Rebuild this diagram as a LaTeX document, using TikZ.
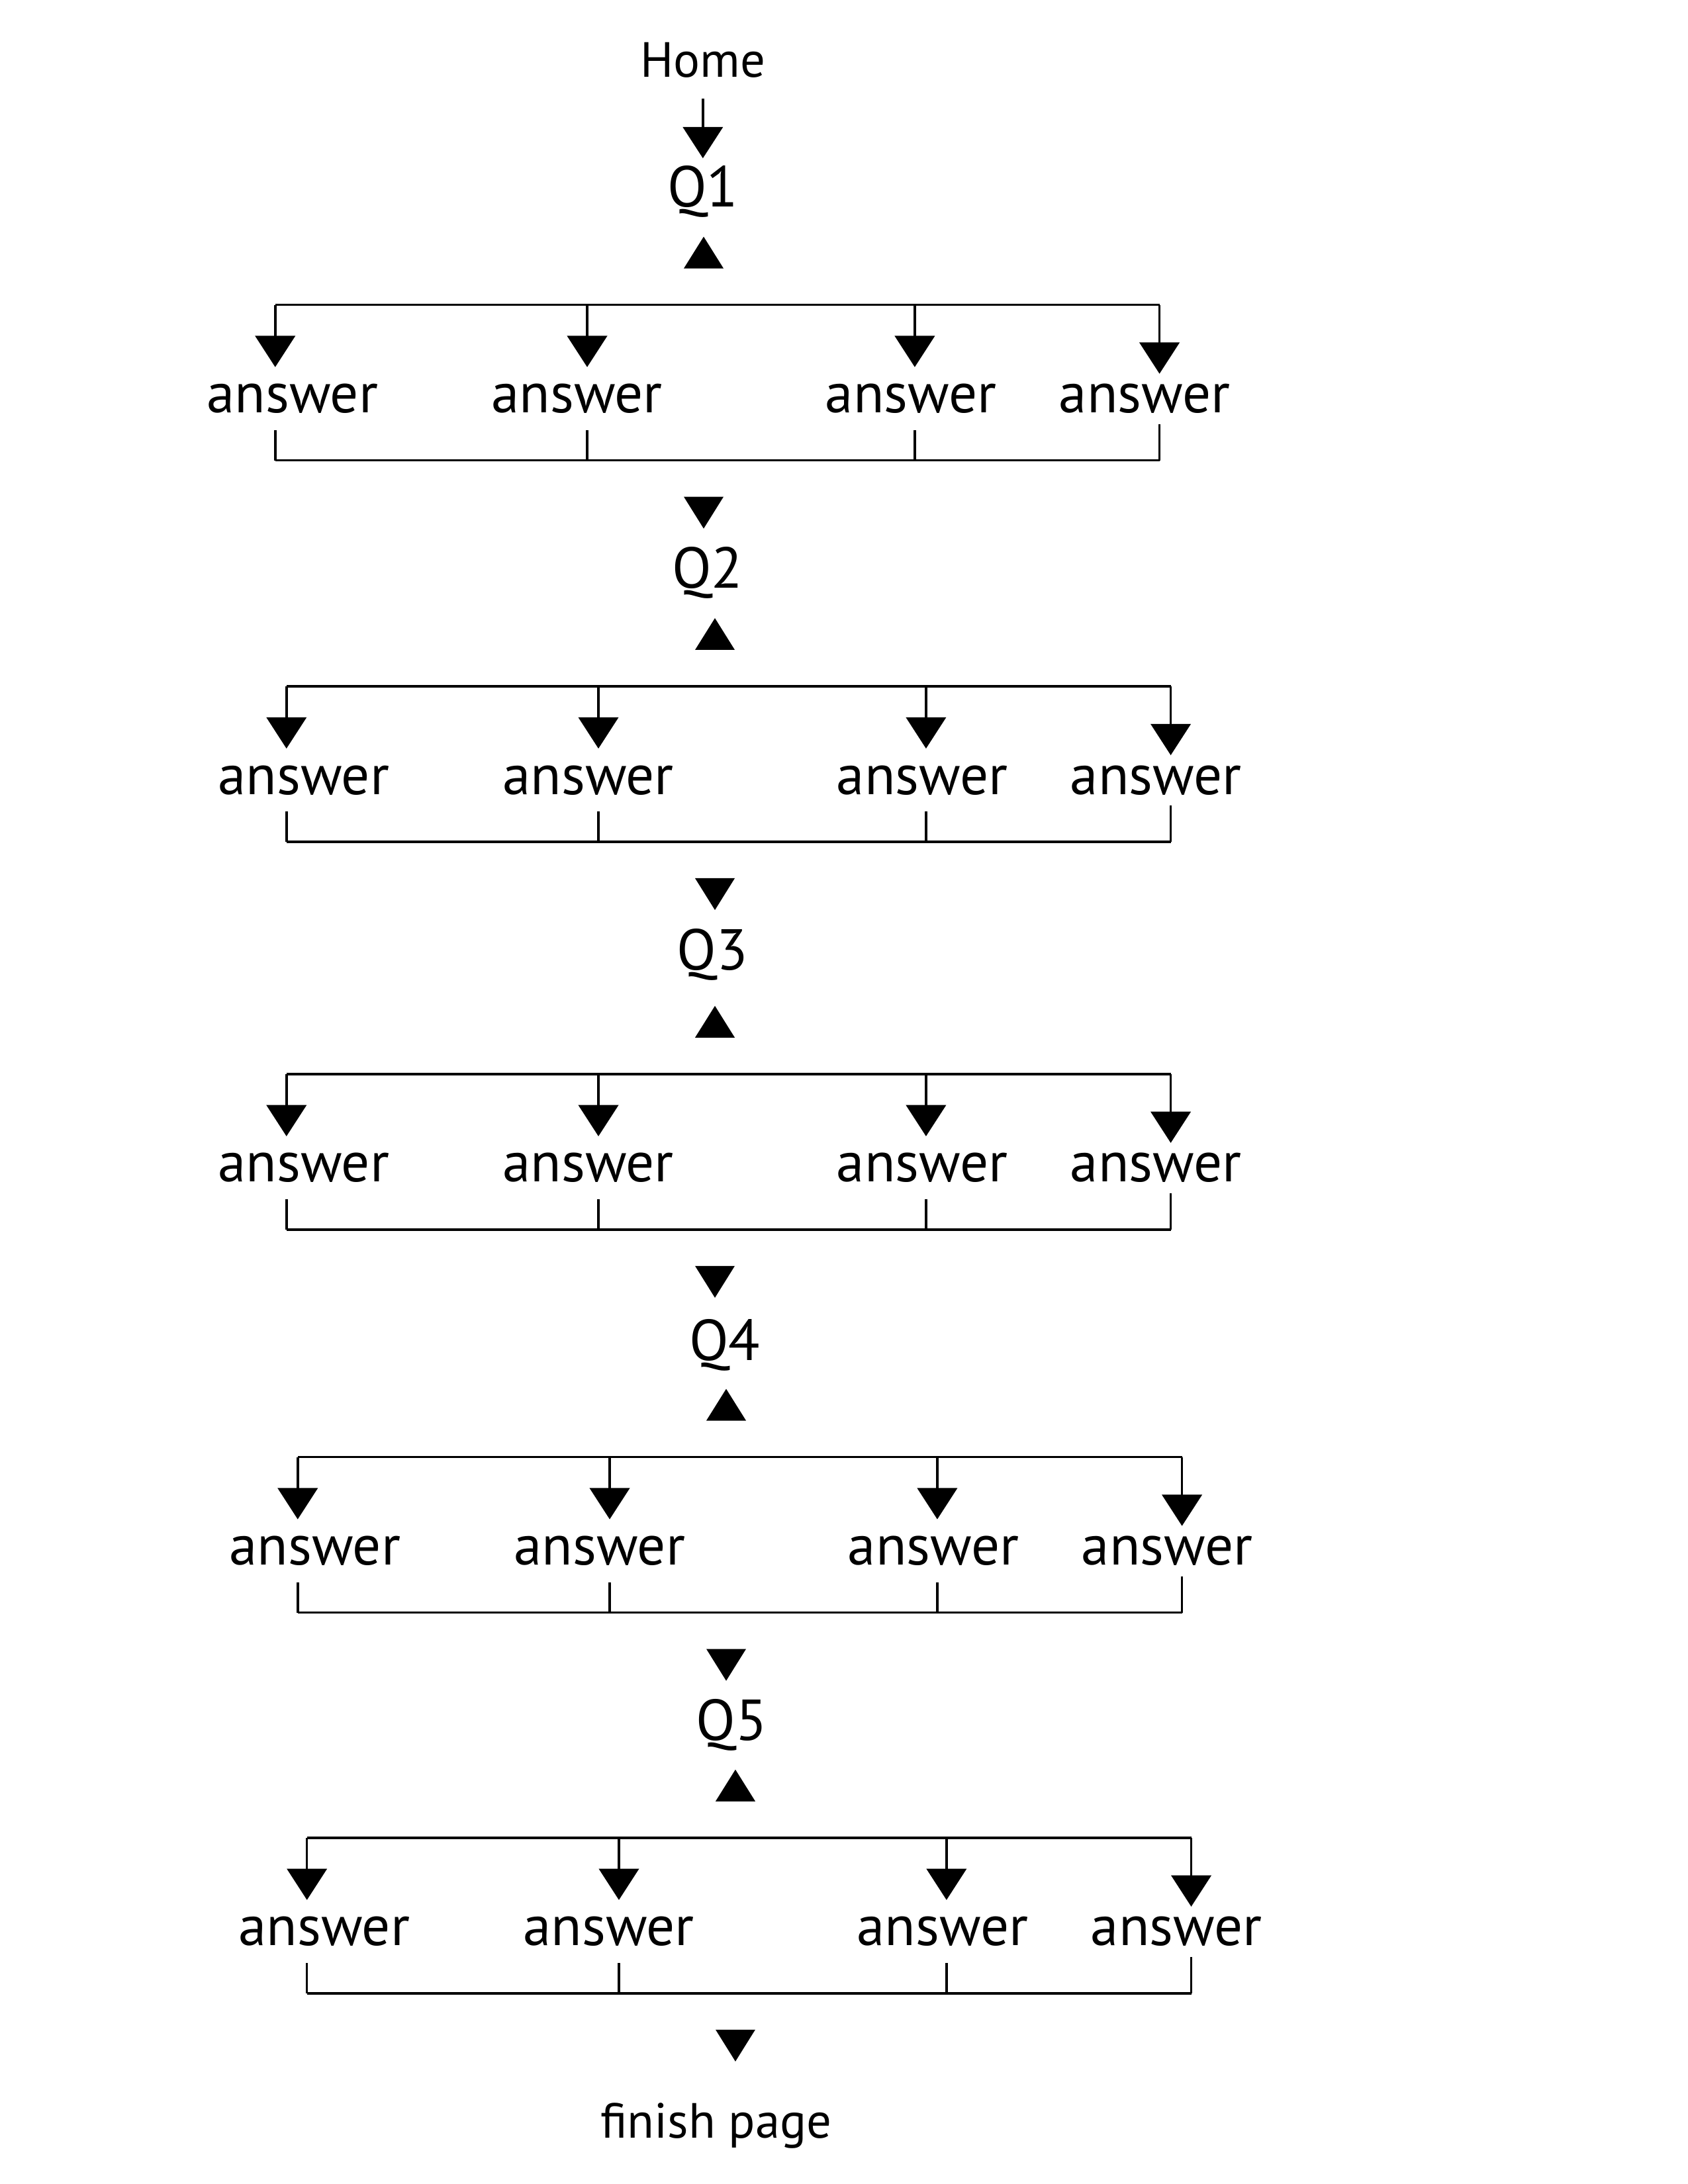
\documentclass[tikz,border=0pt]{standalone}
\usepackage{fontspec}
\setmainfont{PT Sans}
\usetikzlibrary{arrows.meta}

\begin{document}
\begin{tikzpicture}[line width=0.85pt,
  arr/.style={-{Triangle[width=5.1mm,length=4mm]}},
  lbl/.style={anchor=base,inner sep=0pt},
  qlbl/.style={lbl,font=\fontsize{21}{25}\selectfont},
  ans/.style={lbl,font=\fontsize{20.5}{24}\selectfont}]
\useasboundingbox (0,0) rectangle (21.59,-27.94);

\node[lbl,font=\fontsize{18}{21}\selectfont] (home) at (8.99,-0.99) {Home};

% one block per question: Q, up triangle, bar, four answers, bracket, down triangle
\foreach \r/\y/\dx/\qx/\qy in {1/3.90/0/8.99/2.65, 2/8.78/0.144/9.05/7.52,
    3/13.74/0.144/9.11/12.41, 4/18.64/0.288/9.27/17.40, 5/23.51/0.406/9.36/22.26}{
  \node[qlbl] (q\r) at (\qx,-\qy) {Q\r};
  \fill ({9.00+\dx-0.254},{-\y+0.466}) -- ++(0.508,0) -- ++(-0.254,0.406) -- cycle;
  \foreach \c/\xx/\off/\gt/\gb in {1/3.52/0.22/0.2/0.20, 2/7.51/-0.13/0.2/0.20,
      3/11.70/-0.05/0.2/0.20, 4/14.83/-0.19/0.115/0.12}{
    \coordinate (t\r-\c) at ({\xx+\dx},{-\y});
    \coordinate (b\r-\c) at ({\xx+\dx},{-\y-1.99});
    \node[ans] (a\r-\c) at ({\xx+\dx+\off},{-\y-1.38}) {answer};
    \draw[arr,shorten >=\gt cm] (t\r-\c) -- (t\r-\c |- a\r-\c.north);
    \draw[shorten <=\gb cm] (b\r-\c |- a\r-\c.south) -- (b\r-\c);
  }
  \draw (t\r-1) -- (t\r-4);
  \draw (b\r-1) -- (b\r-4);
  \fill ({9.00+\dx-0.254},{-\y-2.455}) -- ++(0.508,0) -- ++(-0.254,-0.407) -- cycle;
}

\draw[arr,shorten <=0.25cm,shorten >=0.085cm] (home.south) -- (q1.north);

\node[lbl,font=\fontsize{18}{21}\selectfont] (finish) at (9.16,-27.35) {finish page};

\end{tikzpicture}
\end{document}
